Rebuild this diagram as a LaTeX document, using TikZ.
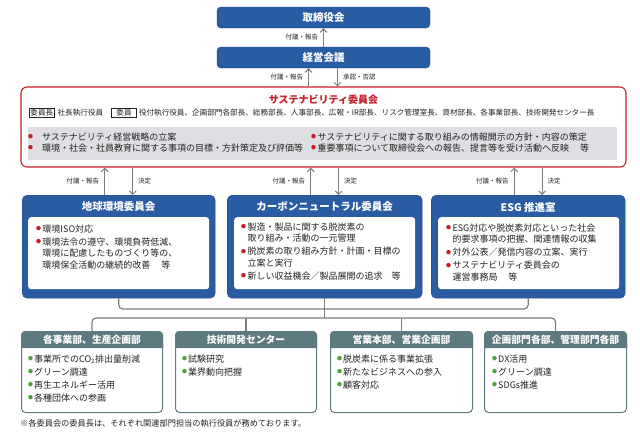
\documentclass[tikz,border=0pt]{standalone}
\usepackage{fontspec}
\setmainfont{Noto Sans CJK JP}
\usepackage{graphicx}
\usetikzlibrary{arrows.meta,calc}
\definecolor{cblue}{RGB}{42,92,164}
\definecolor{cblueb}{RGB}{30,70,135}
\definecolor{cteal}{RGB}{92,122,128}
\definecolor{cred}{RGB}{200,30,40}
\definecolor{cgreen}{RGB}{80,160,60}
\definecolor{cgray}{RGB}{221,223,226}
\definecolor{carrow}{RGB}{125,125,125}
\definecolor{ctext}{RGB}{35,35,35}
\newcommand\rbul{\textcolor{cred}{\raisebox{0.17em}{\scalebox{0.55}{●}}}}
\newcommand\gbul{\textcolor{cgreen}{\raisebox{0.17em}{\scalebox{0.55}{●}}}}
\newcommand\RB{\makebox[0.7em][l]{\rbul}}
\newcommand\RBw{\makebox[1.55em][l]{\rbul}}
\newcommand\IN{\hspace*{0.7em}}
\newcommand\GB{\makebox[0.67em][l]{\gbul}}
\newcommand\memb[1]{{\setlength{\fboxsep}{0.8pt}\setlength{\fboxrule}{0.5pt}\fbox{#1}}}
\newcommand\fs[2]{\fontsize{#1}{#2}\selectfont}
\begin{document}
\begin{tikzpicture}[x=1pt,y=-1pt,
  topbox/.style={draw=cblueb, fill=cblue, rounded corners=4pt, minimum width=213pt, minimum height=21pt, text=white, font=\bfseries\fs{10.5}{12}, inner sep=0pt},
  susbox/.style={draw=cred, line width=1.1pt, rounded corners=6pt, minimum width=605pt, minimum height=80pt, inner sep=0pt},
  cbox/.style={draw=cblueb, fill=cblue, rounded corners=5pt, minimum height=103pt, anchor=north west, inner sep=0pt},
  ctitle/.style={text=white, font=\bfseries\fs{10.5}{12}, inner sep=0pt},
  cinner/.style={fill=white, rounded corners=3pt, minimum height=72pt, anchor=north west, inner sep=0pt},
  citems/.style={anchor=north west, align=left, inner sep=0pt, text=ctext, font=\fs{9}{11.5}},
  dbox/.style={draw=cteal, line width=1pt, fill=white, rounded corners=4pt, minimum height=81pt, anchor=north west, inner sep=0pt},
  dtitle/.style={text=white, font=\bfseries\fs{9.8}{12}, inner sep=0pt},
  ditems/.style={anchor=north west, align=left, inner sep=0pt, text=ctext, font=\fs{9}{13}},
  arr/.style={draw=carrow, line width=1pt, -{Straight Barb[length=3.5pt,width=7pt]}},
  conn/.style={draw=carrow, line width=1.2pt, rounded corners=4pt},
  lab/.style={font=\fs{6.5}{8}, text=ctext, inner sep=2pt}
]
\path[fill=white] (0,0) rectangle (640,432);
\useasboundingbox (0,0) rectangle (640,432);

% top
\node[topbox] (board) at (323.5,17.5) {取締役会};
\node[topbox] (mgmt) at (323.5,57.5) {経営会議};
\draw[arr] (mgmt.north) -- (board.south) node[midway,left=3pt,lab] (l1) {付議・報告};

% sustainability committee
\node[susbox] (sus) at (323.5,127) {};
\draw[arr] ([xshift=-15pt]sus.north) -- ([xshift=-15pt]mgmt.south) node[midway,left=3pt,lab] (l2) {付議・報告};
\draw[arr] ([xshift=14pt]mgmt.south) -- ([xshift=14pt]sus.north) node[midway,right=3pt,lab] (l3) {承認・否認};
\node[text=cred, font=\bfseries\fs{10}{12}, inner sep=0pt] (sustitle) at (323.5,99.5) {サステナビリティ委員会};
\node[anchor=west, font=\fs{7.6}{9}, text=ctext, inner sep=0pt] (members) at (29,113) {\memb{委員長}\hspace{3pt}社長執行役員\hspace{8pt}\memb{\hspace{4pt}委員\hspace{4pt}}\hspace{2pt}役付執行役員、企画部門各部長、総務部長、人事部長、広報・IR部長、リスク管理室長、資材部長、各事業部長、技術開発センター長};
\node[fill=cgray, minimum width=589pt, minimum height=33pt, anchor=north west, inner sep=0pt] (graybox) at (28,127) {};
\node[anchor=west, align=left, inner sep=0pt, text=ctext, font=\fs{9}{11}] (gl) at (28,142.5) {\RBw サステナビリティ経営戦略の立案\\\RBw 環境・社会・社員教育に関する事項の目標・方針策定及び評価等};
\node[anchor=west, align=left, inner sep=0pt, text=ctext, font=\fs{9}{11}] (gr) at (311,142.5) {\RB サステナビリティに関する取り組みの情報開示の方針・内容の策定\\\RB 重要事項について取締役会への報告、提言等を受け活動へ反映\hspace{1.2em}等};

% committees
\node[cbox, minimum width=193pt] (c1) at (22,195) {};
\node[cbox, minimum width=195pt] (c2) at (227,195) {};
\node[cbox, minimum width=194pt] (c3) at (431,195) {};
\foreach \c/\t in {c1/地球環境委員会, c2/カーボンニュートラル委員会, c3/ESG 推進室}{
  \node[ctitle] (\c t) at ([yshift=-12pt]\c.north) {\t};
  \draw[arr] ([xshift=-14pt]\c.north) -- ([xshift=-14pt]sus.south -| \c.north) node[midway,left=3pt,lab] {付議・報告};
  \draw[arr] ([xshift=14pt]sus.south -| \c.north) -- ([xshift=14pt]\c.north) node[midway,right=3pt,lab] {決定};
}
\node[cinner, minimum width=181pt] (c1i) at (28,217) {};
\node[cinner, minimum width=181pt] (c2i) at (234,217) {};
\node[cinner, minimum width=181pt] (c3i) at (438,217) {};
\node[citems] (c1l) at (36,224.5) {\RB 環境ISO対応\\[1.5pt]\RB 環境法令の遵守、環境負荷低減、\\\IN 環境に配慮したものづくり等の、\\\IN 環境保全活動の継続的改善\hspace{1.2em}等};
\node[citems] (c2l) at (241,222.5) {\RB 製造・製品に関する脱炭素の\\\IN 取り組み・活動の一元管理\\[1.5pt]\RB 脱炭素の取り組み方針・計画・目標の\\\IN 立案と実行\\[1.5pt]\RB 新しい収益機会／製品展開の追求\hspace{1em}等};
\node[citems] (c3l) at (446,223.5) {\RB ESG対応や脱炭素対応といった社会\\\IN 的要求事項の把握、関連情報の収集\\[1.5pt]\RB 対外公表／発信内容の立案、実行\\[1.5pt]\RB サステナビリティ委員会の\\\IN 運営事務局\hspace{1.2em}等};

% departments
\node[dbox, minimum width=141pt] (d1) at (21,331) {};
\node[dbox, minimum width=141pt] (d2) at (175,331) {};
\node[dbox, minimum width=142pt] (d3) at (330,331) {};
\node[dbox, minimum width=142pt] (d4) at (484,331) {};
\foreach \d/\t in {d1/各事業部、生産企画部, d2/技術開発センター, d3/営業本部、営業企画部, d4/企画部門各部、管理部門各部}{
  \fill[cteal] ([yshift=-17pt]\d.north west) [rounded corners=4pt] -- (\d.north west) -- (\d.north east) [sharp corners] -- ([yshift=-17pt]\d.north east) -- cycle;
  \node[dtitle] (\d t) at ([yshift=-8.5pt]\d.north) {\t};
}
\node[ditems] (d1l) at (28,354.5) {\GB 事業所でのCO\textsubscript{2}排出量削減\\\GB グリーン調達\\\GB 再生エネルギー活用\\\GB 各種団体への参画};
\node[ditems] (d2l) at (182,354.5) {\GB 試験研究\\\GB 業界動向把握};
\node[ditems] (d3l) at (337,354.5) {\GB 脱炭素に係る事業拡張\\\GB 新たなビジネスへの参入\\\GB 顧客対応};
\node[ditems] (d4l) at (492,354.5) {\GB DX活用\\\GB グリーン調達\\\GB SDGs推進};

% connectors
\coordinate (busA) at (323,309);
\coordinate (busB) at (323,318);
\draw[conn] (c1.south) -- (c1.south |- busA) -- (c3.south |- busA) -- (c3.south);
\draw[conn] (d1.north) -- (d1.north |- busB) -- (d4.north |- busB) -- (d4.north);
\draw[conn] (c2.south) -- (c2.south |- busB);
\draw[conn] (d2.north) -- (d2.north |- busB);
\draw[conn] (d3.north) -- (d3.north |- busB);

% footnote
\node[anchor=west, font=\fs{8.2}{10}, text=ctext, inner sep=0pt] (note) at (20,423) {※各委員会の委員長は、それぞれ関連部門担当の執行役員が務めております。};
\end{tikzpicture}
\end{document}
